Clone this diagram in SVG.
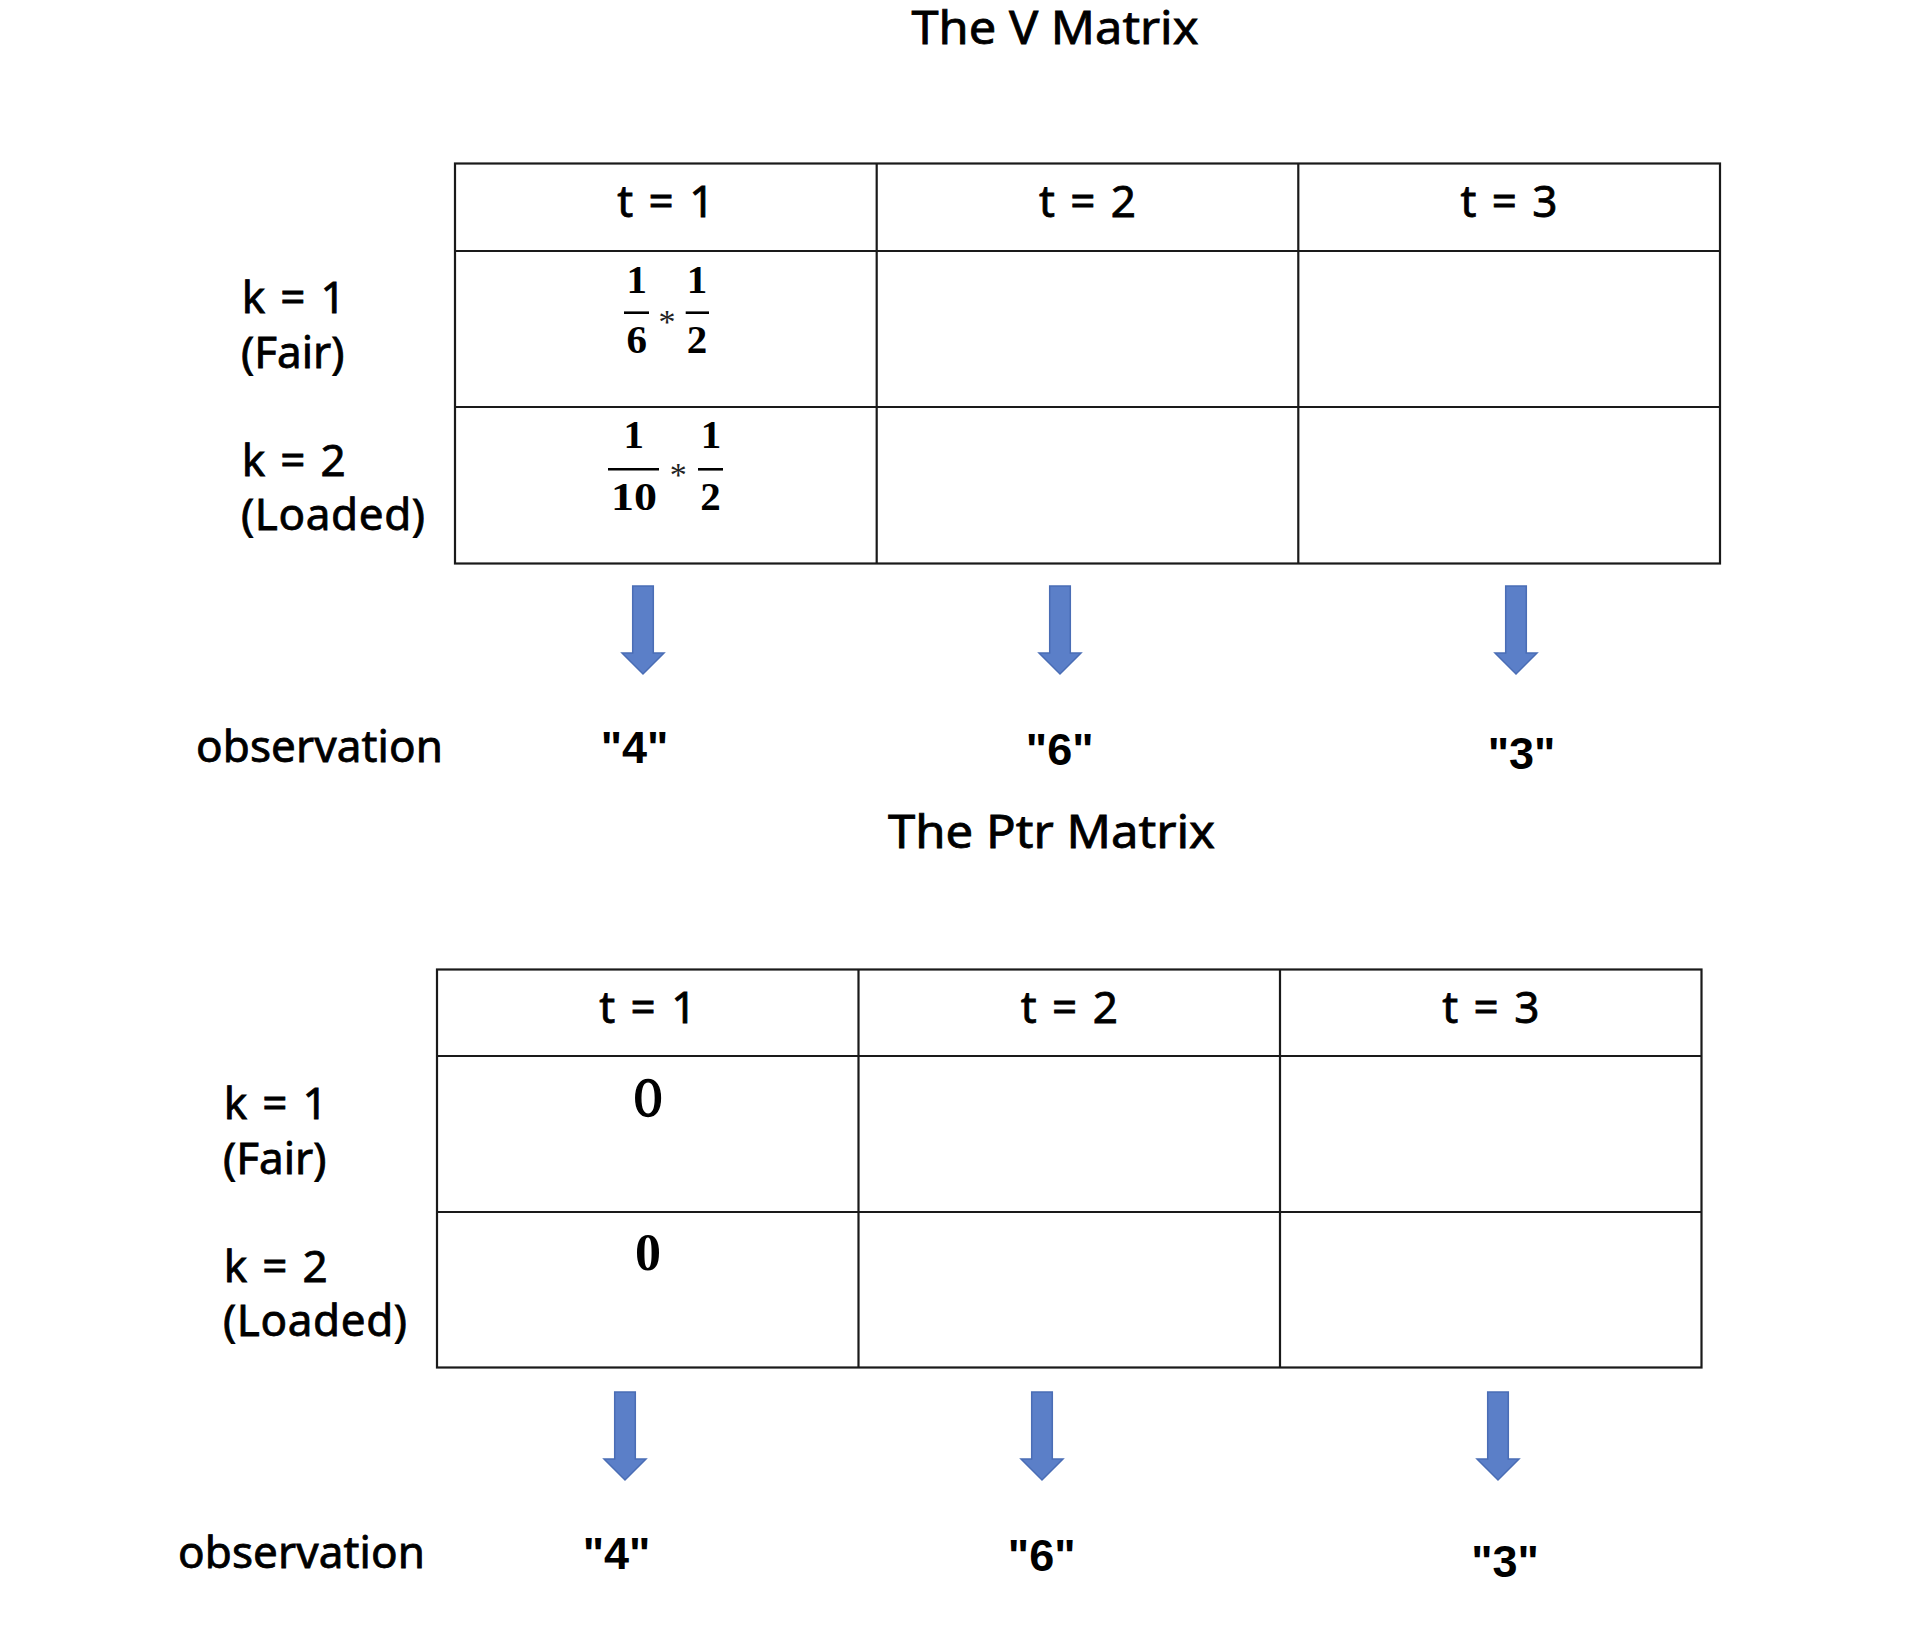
<svg xmlns="http://www.w3.org/2000/svg" width="1914" height="1630" viewBox="0 0 1914 1630">
<defs>
<style>
.lbl{font-family:"Noto Sans","Open Sans","Liberation Sans",sans-serif;font-size:44px;fill:#000;stroke:#000;stroke-width:0.8}
.ttl{font-family:"Noto Sans","Open Sans","Liberation Sans",sans-serif;font-size:46px;fill:#000;stroke:#000;stroke-width:0.8}
.hdr{font-family:"Noto Sans","Open Sans","Liberation Sans",sans-serif;font-size:44px;fill:#000;stroke:#000;stroke-width:0.8;text-anchor:middle}
.obs{font-family:"Liberation Sans",Arial,sans-serif;font-size:45px;font-weight:bold;fill:#000;text-anchor:middle}
.frac{font-family:"Liberation Serif","Times New Roman",serif;font-size:41px;font-weight:bold;fill:#000;text-anchor:middle}
.ast{font-family:"Liberation Serif","Times New Roman",serif;font-size:34px;fill:#222;text-anchor:middle}
.bar{stroke:#000;stroke-width:2.6}
.grid{fill:none;stroke:#1a1a1a;stroke-width:2.2}
.arrow{fill:#5B7FC8;stroke:#4A6DB5;stroke-width:1.5}
</style>
<path id="dnArrow" d="M-10.3,0 H10.3 V67 H21 L0,88 L-21,67 H-10.3 Z"/>
</defs>
<rect width="1914" height="1630" fill="#fff"/>

<g id="title-v">
<text class="ttl" x="911.5" y="44" textLength="287" lengthAdjust="spacingAndGlyphs">The V Matrix</text>
</g>

<g id="table-v">
<rect class="grid" x="455" y="163.5" width="1265" height="400"/>
<line class="grid" x1="455" y1="251" x2="1720" y2="251"/>
<line class="grid" x1="455" y1="407" x2="1720" y2="407"/>
<line class="grid" x1="876.7" y1="163.5" x2="876.7" y2="563.5"/>
<line class="grid" x1="1298.3" y1="163.5" x2="1298.3" y2="563.5"/>
<text class="hdr" x="665.8" y="217" textLength="97">t = 1</text>
<text class="hdr" x="1087.5" y="217" textLength="97">t = 2</text>
<text class="hdr" x="1509" y="217" textLength="97">t = 3</text>
</g>

<g id="v-cell-k1-t1">
<text class="frac" x="636.7" y="293.3">1</text>
<line class="bar" x1="624" y1="312.7" x2="649" y2="312.7"/>
<text class="frac" x="636.7" y="353">6</text>
<text class="ast" x="667" y="333">*</text>
<text class="frac" x="697" y="293.3">1</text>
<line class="bar" x1="685.7" y1="312.7" x2="709" y2="312.7"/>
<text class="frac" x="697" y="353">2</text>
</g>

<g id="v-cell-k2-t1">
<text class="frac" x="633.7" y="448">1</text>
<line class="bar" x1="608" y1="469.3" x2="659" y2="469.3"/>
<text class="frac" x="611" y="510" style="text-anchor:start" textLength="46" lengthAdjust="spacingAndGlyphs">10</text>
<text class="ast" x="678.3" y="486">*</text>
<text class="frac" x="711" y="448">1</text>
<line class="bar" x1="698" y1="469.3" x2="723" y2="469.3"/>
<text class="frac" x="710.5" y="510">2</text>
</g>

<g id="v-row-labels">
<text class="lbl" x="241.7" y="313.3" textLength="104">k = 1</text>
<text class="lbl" x="241" y="368.3">(Fair)</text>
<text class="lbl" x="241.7" y="476" textLength="104">k = 2</text>
<text class="lbl" x="241" y="530" textLength="184">(Loaded)</text>
</g>

<g id="v-observations">
<text class="lbl" x="196" y="761.7" textLength="247">observation</text>
<text class="obs" x="634.5" y="763">"4"</text>
<text class="obs" x="1059.7" y="765">"6"</text>
<text class="obs" x="1521.5" y="769">"3"</text>
</g>

<g id="title-ptr">
<text class="ttl" x="888" y="848.3" textLength="327" lengthAdjust="spacingAndGlyphs">The Ptr Matrix</text>
</g>

<g id="table-ptr">
<rect class="grid" x="437" y="969.5" width="1264.5" height="398"/>
<line class="grid" x1="437" y1="1056" x2="1701.5" y2="1056"/>
<line class="grid" x1="437" y1="1212" x2="1701.5" y2="1212"/>
<line class="grid" x1="858.5" y1="969.5" x2="858.5" y2="1367.5"/>
<line class="grid" x1="1280" y1="969.5" x2="1280" y2="1367.5"/>
<text class="hdr" x="647.8" y="1023" textLength="97">t = 1</text>
<text class="hdr" x="1069.3" y="1023" textLength="97">t = 2</text>
<text class="hdr" x="1490.8" y="1023" textLength="97">t = 3</text>
</g>

<g id="ptr-cell-k1-t1">
<text x="648" y="1115.7" style="font-family:'DejaVu Serif','Liberation Serif',serif;font-size:49px;text-anchor:middle;fill:#000;stroke:#000;stroke-width:1.4">0</text>
</g>

<g id="ptr-cell-k2-t1">
<text x="648" y="1270" style="font-family:'Liberation Serif','Times New Roman',serif;font-size:52px;font-weight:bold;text-anchor:middle;fill:#000">0</text>
</g>

<g id="ptr-row-labels">
<text class="lbl" x="223.7" y="1119" textLength="104">k = 1</text>
<text class="lbl" x="223" y="1174">(Fair)</text>
<text class="lbl" x="223.7" y="1282" textLength="104">k = 2</text>
<text class="lbl" x="223" y="1336" textLength="184">(Loaded)</text>
</g>

<g id="ptr-observations">
<text class="lbl" x="178" y="1567.7" textLength="247">observation</text>
<text class="obs" x="616.5" y="1569">"4"</text>
<text class="obs" x="1041.7" y="1571">"6"</text>
<text class="obs" x="1505" y="1577">"3"</text>
</g>

<g id="connectors">
<use href="#dnArrow" class="arrow" transform="translate(643,586)"/>
<use href="#dnArrow" class="arrow" transform="translate(1060,586)"/>
<use href="#dnArrow" class="arrow" transform="translate(1516,586)"/>
<use href="#dnArrow" class="arrow" transform="translate(625,1392)"/>
<use href="#dnArrow" class="arrow" transform="translate(1042,1392)"/>
<use href="#dnArrow" class="arrow" transform="translate(1498,1392)"/>
</g>
</svg>
